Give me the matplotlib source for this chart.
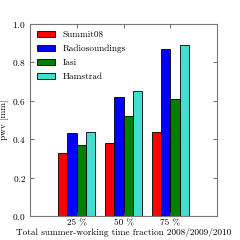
import numpy as np
import matplotlib
matplotlib.use('Agg')
from matplotlib import pyplot as plt

# data
fractions = ['25 %', '50 %', '75 %']
summit08 = [0.33, 0.38, 0.44]
radiosoundings = [0.43, 0.62, 0.87]
iasi = [0.37, 0.52, 0.61]
hamstrad = [0.44, 0.65, 0.89]

plt.rcParams['font.family'] = ['cmr10', 'DejaVu Serif']
plt.rcParams['axes.formatter.use_mathtext'] = True
plt.rcParams['font.size'] = 6.7

fig = plt.figure(figsize=(2.4, 2.4), dpi=100)
ax = fig.add_axes([30 / 240, 24 / 240, 187 / 240, 192 / 240])

ind = np.arange(len(fractions))
width = 0.2
series = [(summit08, 'red', 'Summit08'),
          (radiosoundings, 'blue', 'Radiosoundings'),
          (iasi, 'green', 'Iasi'),
          (hamstrad, 'turquoise', 'Hamstrad')]
for i, (vals, col, lab) in enumerate(series):
    ax.bar(ind + i * width, vals, width, color=col, edgecolor='black',
           linewidth=0.6, align='edge', label=lab)

ax.set_xlim(-0.6, 3.4)
ax.set_ylim(0, 1.0)
ax.set_xticks(ind + 2 * width)
ax.set_xticklabels(fractions)
ax.set_yticks(np.arange(0, 1.01, 0.2))
ax.tick_params(direction='in', top=True, right=True, length=3, width=0.6,
               color='#555555', pad=3)
ax.tick_params(axis='x', pad=2)
for s in ax.spines.values():
    s.set_color('#777777')
    s.set_linewidth(0.8)

ax.set_ylabel('pwv [mm]', labelpad=2)
ax.set_xlabel('Total summer-working time fraction 2008/2009/2010', labelpad=0.5)
ax.legend(loc='upper left', frameon=False, fontsize=6.7, handlelength=2.0,
          handleheight=0.7, labelspacing=0.6, borderaxespad=0.3,
          handletextpad=0.8)

fig.savefig('out.png', dpi=100)
